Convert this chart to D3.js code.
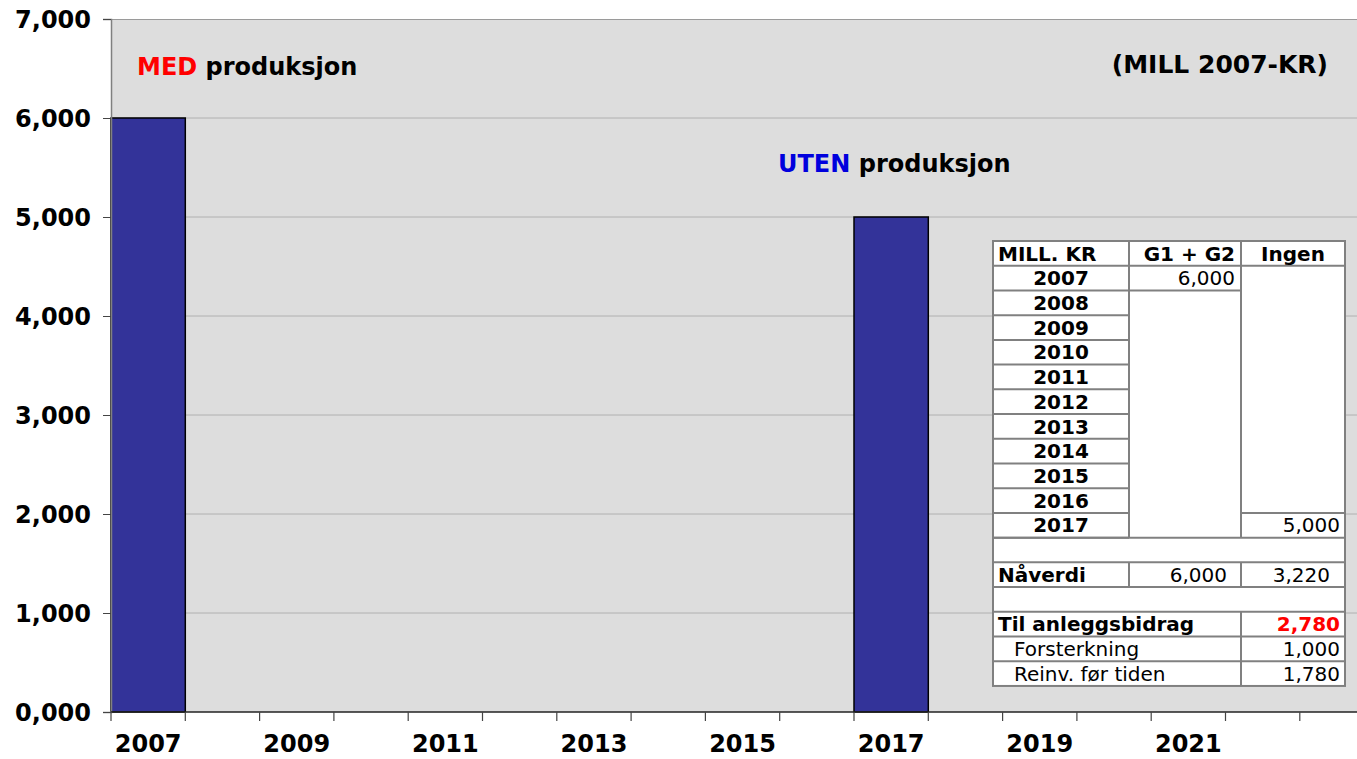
<!DOCTYPE html>
<html><head><meta charset="utf-8">
<script src="https://cdn.jsdelivr.net/npm/d3@7"></script>
<style>
html,body{margin:0;padding:0;background:#fff;}
svg{display:block;font-family:"DejaVu Sans",Verdana,sans-serif;}
</style></head>
<body><svg id="c" width="1357" height="759"></svg>
<script>
// ---- data ----
const categories = ["2007","2008","2009","2010","2011","2012","2013","2014","2015","2016","2017","2018","2019","2020","2021","2022","2023"];
const values = [6000,0,0,0,0,0,0,0,0,0,5000,0,0,0,0,0,0];
const xTickLabels = ["2007","2009","2011","2013","2015","2017","2019","2021"];
const yTicks = [0,1000,2000,3000,4000,5000,6000,7000];
const yTickLabels = ["0,000","1,000","2,000","3,000","4,000","5,000","6,000","7,000"];

const tableHeader = ["MILL. KR","G1 + G2","Ingen"];
const tableYears = ["2007","2008","2009","2010","2011","2012","2013","2014","2015","2016","2017"];
const g1g2 = ["6,000"];            // 2007
const ingen = ["5,000"];           // 2017
const naverdi = ["Nåverdi","6,000","3,220"];
const bidragRows = [["Til anleggsbidrag","2,780"],["Forsterkning","1,000"],["Reinv. før tiden","1,780"]];

// ---- layout ----
const svg = d3.select("#c");
const L = 111, T = 19, B = 712, step = 74.3;
const x = d3.scaleBand().domain(categories).range([L, L + step*categories.length]).padding(0);
const y = d3.scaleLinear().domain([0,7000]).range([B, T]);
const R = 1357;

// plot background
svg.append("rect").attr("x",L).attr("y",T).attr("width",R-L).attr("height",B-T).attr("fill","#dddddd");
// gridlines
svg.append("g").selectAll("line").data(yTicks.filter(d=>d>0&&d<7000)).join("line")
  .attr("x1",L).attr("x2",R).attr("y1",d=>y(d)).attr("y2",d=>y(d))
  .attr("stroke","#b0b0b0").attr("stroke-width",1);
// top border
svg.append("line").attr("x1",L).attr("x2",R).attr("y1",T+0.5).attr("y2",T+0.5).attr("stroke","#9a9a9a");

// bars
svg.append("g").selectAll("rect").data(categories.map((c,i)=>({c,v:values[i]})).filter(d=>d.v>0)).join("rect")
  .attr("x",d=>x(d.c)).attr("width",x.bandwidth())
  .attr("y",d=>y(d.v)).attr("height",d=>B-y(d.v))
  .attr("fill","#333399").attr("stroke","#000").attr("stroke-width",1.5);

// y axis
const yAxis = d3.axisLeft(y).tickValues(yTicks).tickSize(8).tickFormat((d,i)=>yTickLabels[i]).tickPadding(12);
const ya = svg.append("g").attr("transform",`translate(${L},0)`).call(yAxis);
ya.select(".domain").attr("stroke","#808080").attr("stroke-width",1.5);
ya.selectAll(".tick line").attr("stroke","#444");
ya.selectAll("text").attr("font-size",24).attr("font-weight","bold").attr("fill","#000")
  .attr("font-family","DejaVu Sans").attr("dy","0.35em");

// x axis
const xa = svg.append("g").attr("transform",`translate(0,${B})`);
xa.append("line").attr("x1",L).attr("x2",R).attr("y1",0).attr("y2",0).attr("stroke","#222").attr("stroke-width",1.5);
const bounds = categories.map(c=>x(c)).filter(v=>v<R);
xa.selectAll("line.tk").data(bounds).join("line").attr("class","tk")
  .attr("x1",d=>d).attr("x2",d=>d).attr("y1",0).attr("y2",9).attr("stroke","#444").attr("stroke-width",1.2);
xa.selectAll("text").data(xTickLabels).join("text")
  .attr("x",d=>x(d)+x.bandwidth()/2).attr("y",40)
  .attr("text-anchor","middle").attr("font-size",24).attr("font-weight","bold").text(d=>d);

// annotations
const t1 = svg.append("text").attr("x",137).attr("y",75).attr("font-size",24).attr("font-weight","bold");
t1.append("tspan").attr("fill","#ff0000").text("MED");
t1.append("tspan").attr("fill","#000").text(" produksjon");
const t2 = svg.append("text").attr("x",778).attr("y",172).attr("font-size",24).attr("font-weight","bold");
t2.append("tspan").attr("fill","#0000dd").text("UTEN");
t2.append("tspan").attr("fill","#000").text(" produksjon");
svg.append("text").attr("x",1328).attr("y",73).attr("text-anchor","end").attr("font-size",25).attr("font-weight","bold").text("(MILL 2007-KR)");

// ---- table ----
const tx0 = 993, tx1 = 1129, tx2 = 1241, tx3 = 1345, ty0 = 241, rh = 24.72;
const tb = svg.append("g");
const rowY = i => ty0 + i*rh;
const lc = "#808080", fs = 20;
tb.append("rect").attr("x",tx0).attr("y",ty0).attr("width",tx3-tx0).attr("height",rh*18).attr("fill","#fff");
function hline(xa,xb,yy){tb.append("line").attr("x1",xa).attr("x2",xb).attr("y1",yy).attr("y2",yy).attr("stroke",lc).attr("stroke-width",2);}
function vline(xx,ya,yb){tb.append("line").attr("x1",xx).attr("x2",xx).attr("y1",ya).attr("y2",yb).attr("stroke",lc).attr("stroke-width",2);}
function txt(s,xx,row,anchor,opts={}){
  return tb.append("text").attr("x",xx).attr("y",rowY(row)+rh/2).attr("dy","0.36em")
    .attr("text-anchor",anchor).attr("font-size",fs).attr("font-weight",opts.bold?"bold":"normal")
    .attr("fill",opts.fill||"#000").text(s);
}
// outer
tb.append("rect").attr("x",tx0).attr("y",ty0).attr("width",tx3-tx0).attr("height",rh*18).attr("fill","none").attr("stroke",lc).attr("stroke-width",2);
// header
hline(tx0,tx3,rowY(1)); vline(tx1,rowY(0),rowY(1)); vline(tx2,rowY(0),rowY(1));
txt(tableHeader[0],tx0+5,0,"start",{bold:true});
txt(tableHeader[1],tx2-6,0,"end",{bold:true});
txt(tableHeader[2],(tx2+tx3)/2,0,"middle",{bold:true});
// years
tableYears.forEach((yr,i)=>{ txt(yr,(tx0+tx1)/2,i+1,"middle",{bold:true}); hline(tx0,tx1,rowY(i+2)); });
vline(tx1,rowY(1),rowY(12)); vline(tx2,rowY(1),rowY(12));
hline(tx1,tx2,rowY(2)); hline(tx2,tx3,rowY(11));
txt(g1g2[0],tx2-6,1,"end");
txt(ingen[0],tx3-5,11,"end");
hline(tx0,tx3,rowY(12));
// blank row 12, naverdi row 13
hline(tx0,tx3,rowY(13)); hline(tx0,tx3,rowY(14));
vline(tx1,rowY(13),rowY(14)); vline(tx2,rowY(13),rowY(14));
txt(naverdi[0],tx0+5,13,"start",{bold:true});
txt(naverdi[1],tx2-14,13,"end");
txt(naverdi[2],tx3-15,13,"end");
// blank row 14, bidrag rows 15-17
hline(tx0,tx3,rowY(15));
bidragRows.forEach((r,i)=>{
  const row = 15+i;
  if(i>0) hline(tx0,tx3,rowY(row));
  vline(tx2,rowY(row),rowY(row+1));
  txt(r[0], i===0?tx0+5:tx0+21, row, "start",{bold:i===0});
  txt(r[1], tx3-5, row, "end",{bold:i===0, fill:i===0?"#ff0000":"#000"});
});
</script></body></html>
